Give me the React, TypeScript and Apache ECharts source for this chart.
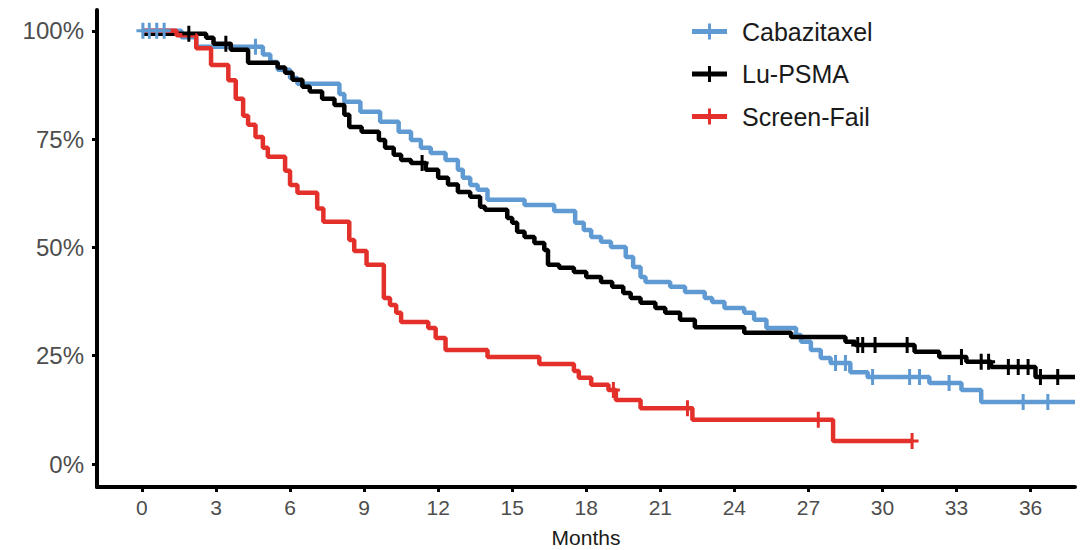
import React, { useEffect, useRef } from "react";
import * as echarts from "echarts";

const seriesNames = ["Cabazitaxel", "Lu-PSMA", "Screen-Fail"];
const seriesColors = ["#5f9ad3", "#000000", "#e3302a"];

const xTicks = [0, 3, 6, 9, 12, 15, 18, 21, 24, 27, 30, 33, 36];
const yTicks = [0, 25, 50, 75, 100];

// Kaplan-Meier steps: [months, survival %]
const cabazitaxelSteps = [
  [0, 100], [1.6, 98.5], [2.2, 96.3], [4.9, 94.5], [5.2, 92.8], [5.5, 91], [6.0, 89.1], [6.3, 87.8],
  [8.0, 85.4], [8.2, 83.6], [8.85, 81.3], [9.65, 79], [10.4, 76.7], [10.9, 74.8], [11.3, 73], [11.7, 71.8],
  [12.3, 70.2], [12.8, 67.9], [13.0, 66.1], [13.3, 64.4], [13.6, 63.3], [14.0, 61], [15.5, 59.8], [16.7, 58.4],
  [17.55, 55.7], [17.9, 54], [18.2, 52.4], [18.6, 51.3], [19.0, 50.1], [19.6, 47.8], [19.9, 45.5], [20.2, 43.2],
  [20.4, 42], [21.4, 40.9], [22.0, 39.7], [22.8, 38.3], [23.1, 37.4], [23.6, 36], [24.4, 34.9], [24.8, 33.3],
  [25.3, 31.4], [26.5, 29.8], [26.7, 28.2], [27.1, 26.3], [27.5, 24.5], [27.9, 23.3], [28.7, 21.2], [29.4, 20.1],
  [31.9, 18.7], [33.2, 17.1], [34.0, 14.3], [37.8, 14.3],
];
const luPsmaSteps = [
  [0, 99.3], [2.6, 98.4], [2.9, 97.0], [3.6, 95.6], [4.3, 92.6], [5.5, 91.5], [5.8, 90.3], [6.1, 88.7],
  [6.5, 87.1], [6.8, 86], [7.3, 84.3], [7.8, 82.9], [8.2, 80.6], [8.4, 77.8], [8.9, 76.7], [9.6, 74.8],
  [9.85, 73], [10.2, 71.4], [10.5, 70.2], [10.9, 69.5], [11.5, 67.9], [12.0, 66.1], [12.4, 64.5], [12.8, 62.8],
  [13.3, 61.7], [13.7, 59.4], [13.9, 58.7], [14.8, 56.8], [15.0, 55.7], [15.2, 53.6], [15.5, 52.4], [15.9, 51.0],
  [16.3, 49.4], [16.45, 46], [16.9, 45.3], [17.5, 44.3], [18.0, 43.2], [18.6, 42], [19.05, 40.9], [19.5, 39.5],
  [19.8, 38.3], [20.2, 37.2], [20.8, 36], [21.2, 34.9], [21.8, 33.3], [22.4, 31.6], [24.4, 30.3], [26.3, 29.3],
  [28.5, 28.2], [28.9, 27.5], [31.3, 25.9], [32.3, 24.7], [33.4, 23.6], [34.4, 22.4], [36.2, 20.1], [37.8, 20.1],
];
const screenFailSteps = [
  [0, 100], [1.4, 99], [2.2, 96], [2.8, 92.1], [3.5, 88.6], [3.8, 84.3], [4.1, 80.4], [4.3, 78.3],
  [4.6, 75.5], [4.9, 73], [5.1, 70.9], [5.8, 67.7], [6.0, 64.4], [6.3, 62.6], [7.1, 59], [7.35, 55.9],
  [8.4, 51.7], [8.6, 49.2], [9.1, 46], [9.8, 38.3], [10.05, 36.7], [10.3, 34.9], [10.5, 32.8], [11.6, 31.4],
  [11.9, 29.1], [12.3, 26.3], [14.0, 24.7], [16.1, 23.1], [17.5, 21.5], [17.7, 19.9], [18.2, 18.3], [18.9, 17.1],
  [19.2, 14.8], [20.2, 12.9], [22.3, 10.2], [28.0, 5.3], [31.2, 5.3],
];

// Censoring times (months)
const cabazitaxelCensored = [0.04, 0.3, 0.6, 0.9, 4.6, 28.1, 28.5, 29.6, 31.1, 31.5, 32.7, 35.7, 36.7];
const luPsmaCensored = [1.9, 3.4, 11.35, 29.0, 29.2, 29.7, 31.0, 33.2, 34.0, 34.3, 35.1, 35.5, 35.9, 36.4, 37.1];
const screenFailCensored = [19.1, 22.1, 27.4, 31.2];

const allSteps = [cabazitaxelSteps, luPsmaSteps, screenFailSteps];
const allCensored = [cabazitaxelCensored, luPsmaCensored, screenFailCensored];

function survivalAt(steps: number[][], t: number): number {
  let s = steps[0][1];
  for (const [tt, ss] of steps) {
    if (tt <= t) s = ss;
    else break;
  }
  return s;
}

const FONT = "'Liberation Sans', Arial, sans-serif";
const plusSymbol = "path://M0,6.5H5V0H8V6.5H13V9.5H8V16H5V9.5H0Z";
const legendIcon = "path://M0,5.5H16V0H19V5.5H35V10.5H19V16H16V10.5H0Z";

export default function App() {
  const ref = useRef<HTMLDivElement>(null);
  useEffect(() => {
    if (!ref.current) return;
    const chart = echarts.init(ref.current, null, { renderer: "svg" });
    const series: any[] = [];
    seriesNames.forEach((name, i) => {
      series.push({
        name,
        type: "line",
        step: "end",
        showSymbol: false,
        symbol: "none",
        data: allSteps[i],
        lineStyle: { color: seriesColors[i], width: 4.5 },
        itemStyle: { color: seriesColors[i] },
        z: 2 + i,
      });
    });
    seriesNames.forEach((name, i) => {
      series.push({
        name: name + " censored",
        type: "scatter",
        symbol: plusSymbol,
        symbolSize: [13, 16],
        data: allCensored[i].map((t) => [t, survivalAt(allSteps[i], t)]),
        itemStyle: { color: seriesColors[i], opacity: 1 },
        z: 5 + i,
      });
    });
    chart.setOption({
      animation: false,
      backgroundColor: "#ffffff",
      textStyle: { fontFamily: FONT },
      grid: { left: 97, right: 6, top: 10, bottom: 63, containLabel: false, outerBoundsMode: "none" },
      legend: {
        orient: "vertical",
        left: 687,
        top: 14,
        itemWidth: 35,
        itemHeight: 16,
        itemGap: 17.5,
        data: seriesNames.map((n) => ({ name: n, icon: legendIcon })),
        textStyle: { fontSize: 25, color: "#1a1a1a", fontFamily: FONT, padding: [0, 0, 0, 10] },
        selectedMode: false,
      },
      xAxis: {
        type: "value",
        min: -1.82,
        max: 37.8,
        name: "Months",
        nameLocation: "middle",
        nameGap: 40,
        nameTextStyle: { fontSize: 21, color: "#1a1a1a", fontFamily: FONT },
        splitLine: { show: false },
        axisLine: { show: true, onZero: false, lineStyle: { color: "#000", width: 4 } },
        axisTick: { show: true, length: 5, lineStyle: { color: "#000", width: 3 }, customValues: xTicks },
        axisLabel: {
          customValues: xTicks,
          fontSize: 21,
          color: "#4d4d4d",
          margin: 10,
          fontFamily: FONT,
        },
      },
      yAxis: {
        type: "value",
        min: -5.3,
        max: 104.8,
        splitLine: { show: false },
        axisLine: { show: true, onZero: false, lineStyle: { color: "#000", width: 4 } },
        axisTick: { show: true, length: 5, lineStyle: { color: "#000", width: 3 }, customValues: yTicks },
        axisLabel: {
          customValues: yTicks,
          formatter: (v: number) => v + "%",
          fontSize: 24,
          color: "#4d4d4d",
          margin: 13,
          fontFamily: FONT,
        },
      },
      series,
    });
    return () => chart.dispose();
  }, []);
  return <div ref={ref} style={{ width: 1081, height: 550, position: "absolute", left: 0, top: 0 }} />;
}
